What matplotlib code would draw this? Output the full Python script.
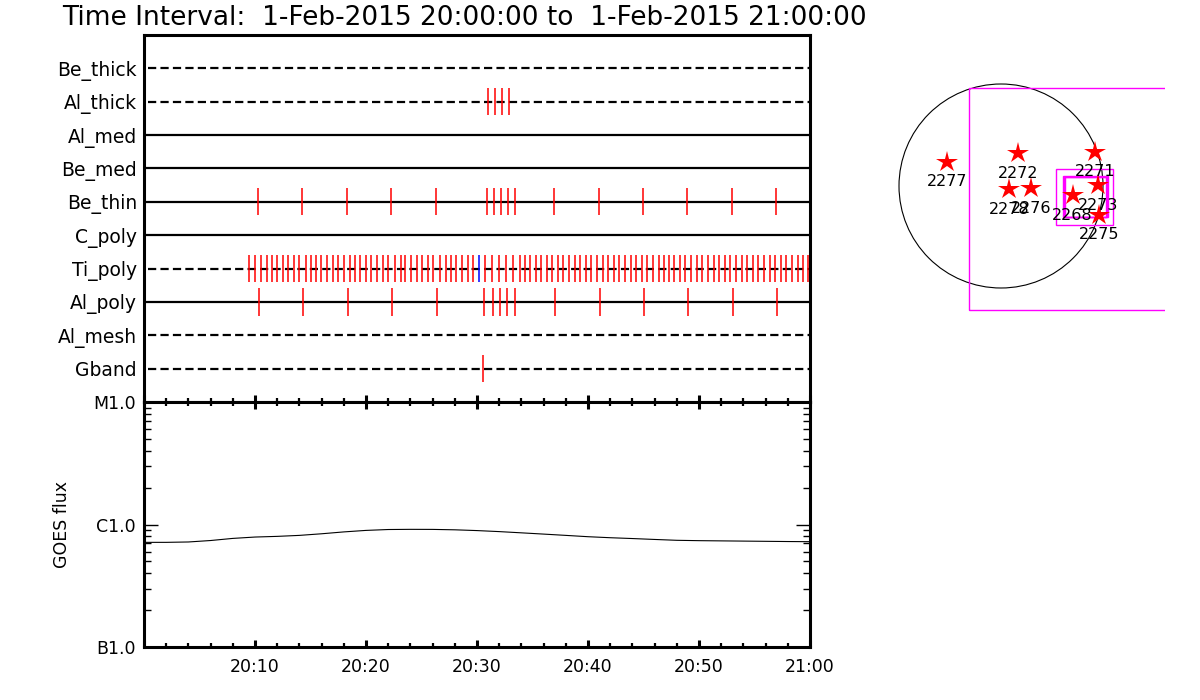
import matplotlib
matplotlib.use('Agg')
import matplotlib.pyplot as plt
from matplotlib.patches import Circle, Rectangle
from matplotlib.ticker import FixedLocator, MultipleLocator, LogLocator, NullFormatter, FixedFormatter

# ---------------- data ----------------
title = "Time Interval:  1-Feb-2015 20:00:00 to  1-Feb-2015 21:00:00"

filters = ['Be_thick', 'Al_thick', 'Al_med', 'Be_med', 'Be_thin',
           'C_poly', 'Ti_poly', 'Al_poly', 'Al_mesh', 'Gband']
filter_dashed = [True, True, False, False, False, False, True, False, True, True]

# exposure times, minutes after 20:00
be_thick_times = []
al_thick_times = [31.00, 31.64, 32.27, 32.90]
al_med_times = []
be_med_times = []
be_thin_times = [10.27, 14.24, 18.30, 22.26, 26.32, 30.91, 31.55, 32.18, 32.81, 33.44,
                 36.95, 41.01, 44.97, 48.94, 53.00, 56.96]
c_poly_times = []
ti_poly_times = [9.46, 10.00, 10.55, 11.09, 11.54, 11.99, 12.53, 12.98, 13.52, 13.97,
                 14.60, 15.05, 15.50, 15.95, 16.49, 17.03, 17.49, 18.03, 18.57, 19.02,
                 19.47, 20.01, 20.46, 21.00, 21.54, 21.99, 22.62, 23.16, 23.52, 24.06,
                 24.61, 25.06, 25.60, 26.05, 26.68, 27.22, 27.67, 28.12, 28.66, 29.20,
                 29.65, 30.73, 31.37, 32.00, 32.63, 33.26, 33.89, 34.34, 34.79, 35.33,
                 35.78, 36.32, 36.77, 37.31, 37.76, 38.30, 38.85, 39.30, 39.84, 40.29,
                 40.83, 41.37, 41.82, 42.36, 42.81, 43.35, 43.89, 44.35, 44.89, 45.34,
                 45.88, 46.42, 46.87, 47.32, 47.77, 48.31, 48.76, 49.30, 49.84, 50.29,
                 50.83, 51.37, 51.83, 52.37, 52.82, 53.36, 53.90, 54.35, 54.89, 55.34,
                 55.88, 56.42, 56.87, 57.41, 57.86, 58.40, 58.94, 59.40, 59.85]
ti_poly_blue_times = [30.19]
al_poly_times = [10.36, 14.33, 18.39, 22.35, 26.41, 30.64, 31.46, 32.09, 32.72, 33.44,
                 37.04, 41.10, 45.07, 49.03, 53.09, 57.05]
al_mesh_times = []
gband_times = [30.55]

filter_times = [be_thick_times, al_thick_times, al_med_times, be_med_times, be_thin_times,
                c_poly_times, ti_poly_times, al_poly_times, al_mesh_times, gband_times]

time_tick_labels = ['', '20:10', '20:20', '20:30', '20:40', '20:50', '21:00']

goes_minutes = [0, 2, 4, 6, 8, 10, 12, 14, 16, 18, 20, 22, 24, 26, 28, 30,
                32, 34, 36, 38, 40, 42, 44, 46, 48, 50, 52, 54, 56, 58, 60]
goes_flux = [7.15e-7, 7.15e-7, 7.20e-7, 7.40e-7, 7.70e-7, 7.90e-7, 8.00e-7, 8.15e-7,
             8.40e-7, 8.70e-7, 8.95e-7, 9.10e-7, 9.13e-7, 9.12e-7, 9.05e-7, 8.92e-7,
             8.75e-7, 8.55e-7, 8.35e-7, 8.15e-7, 7.95e-7, 7.80e-7, 7.68e-7, 7.55e-7,
             7.43e-7, 7.38e-7, 7.35e-7, 7.32e-7, 7.29e-7, 7.26e-7, 7.24e-7]
goes_class_values = [1e-7, 1e-6, 1e-5]
goes_class_labels = ['B1.0', 'C1.0', 'M1.0']

# active regions (arcsec)
ar_numbers = ['2277', '2272', '2271', '2278', '2276', '2268', '2273', '2275']
ar_x = [-519, 160, 896, 79, 284, 685, 927, 934]
ar_y = [232, 313, 328, -32, -22, -89, 7, -274]
solar_radius = 975
# FOV boxes: x0, y0, x1, y1 (arcsec)
fov_boxes = [(-303, -1185, 4000, 934),
             (529, -370, 1068, 160),
             (596, -300, 1020, 93),
             (604, -298, 1000, 90),
             (612, -296, 1012, 88)]

# ---------------- figure ----------------
W, H = 1200, 700
fig = plt.figure(figsize=(12, 7), dpi=100)

def frac(x0, y0, x1, y1):
    return [x0 / W, 1 - y1 / H, (x1 - x0) / W, (y1 - y0) / H]

ax1 = fig.add_axes(frac(144, 35, 810, 402))
ax2 = fig.add_axes(frac(144, 402, 810, 647), sharex=ax1)

spine_lw = 2.2
nrows = len(filters)
for i, (name, dashed, times) in enumerate(zip(filters, filter_dashed, filter_times)):
    yv = nrows - i
    if dashed:
        ax1.plot([0.4, 60], [yv, yv], color='black', lw=1.6, linestyle=(0, (3.7, 1.9)))
    else:
        ax1.plot([0, 60], [yv, yv], color='black', lw=1.6)
    if times:
        ax1.vlines(times, yv - 0.41, yv + 0.41, color='red', lw=1.1)
    if name == 'Ti_poly':
        ax1.vlines(ti_poly_blue_times, yv - 0.41, yv + 0.41, color='blue', lw=1.1)

ax1.set_xlim(0, 60)
ax1.set_ylim(0, nrows + 1)
ax1.set_yticks(range(nrows, 0, -1))
ax1.set_yticklabels(filters, fontsize=13.5)
ax1.tick_params(axis='y', length=0, pad=5)
ax1.xaxis.set_major_locator(MultipleLocator(10))
ax1.xaxis.set_minor_locator(MultipleLocator(2))
ax1.tick_params(axis='x', which='major', direction='in', length=5, width=2.2,
                bottom=True, top=False, labelbottom=False)
ax1.tick_params(axis='x', which='minor', direction='in', length=3, width=1.6,
                bottom=True, top=False)
for s in ax1.spines.values():
    s.set_linewidth(spine_lw)

# GOES panel
ax2.plot(goes_minutes, goes_flux, color='black', lw=0.8)
ax2.set_yscale('log')
ax2.set_ylim(1e-7, 1e-5)
ax2.set_xlim(0, 60)
ax2.yaxis.set_major_locator(FixedLocator(goes_class_values))
ax2.yaxis.set_major_formatter(FixedFormatter(goes_class_labels))
ax2.yaxis.set_minor_locator(LogLocator(base=10, subs=range(2, 10)))
ax2.yaxis.set_minor_formatter(NullFormatter())
ax2.tick_params(axis='y', which='major', direction='in', length=10, width=1.0,
                left=True, right=True, labelsize=12.5, pad=6)
ax2.tick_params(axis='y', which='minor', direction='in', length=5, width=1.0,
                left=True, right=True)
ax2.set_xticks(range(0, 61, 10))
ax2.set_xticklabels(time_tick_labels)
ax2.xaxis.set_minor_locator(MultipleLocator(2))
ax2.tick_params(axis='x', which='major', direction='in', length=5, width=2.2,
                top=True, bottom=True, labelsize=12.5, pad=8)
ax2.tick_params(axis='x', which='minor', direction='in', length=3, width=1.6,
                top=True, bottom=True)
ax2.set_ylabel('GOES flux', fontsize=12.5, labelpad=16)
for s in ax2.spines.values():
    s.set_linewidth(spine_lw)

fig.text(62 / W, 1 - 25 / H, title, fontsize=19, ha='left', va='baseline')

# Solar disk panel
px_scale = solar_radius / 102.0
cx, cy = 1001, 186
ax3 = fig.add_axes(frac(880, 60, 1165, 330))
ax3.set_xlim((880 - cx) * px_scale, (1165 - cx) * px_scale)
ax3.set_ylim((cy - 330) * px_scale, (cy - 60) * px_scale)
ax3.axis('off')
ax3.add_patch(Circle((0, 0), solar_radius, fill=False, edgecolor='black', lw=0.8))
for (x0, y0, x1, y1) in fov_boxes:
    ax3.add_patch(Rectangle((x0, y0), x1 - x0, y1 - y0, fill=False,
                            edgecolor='magenta', lw=1.0))
ax3.plot(ar_x, ar_y, linestyle='none', marker='*', markersize=16,
         color='red', markeredgewidth=0)
for num, x, y in zip(ar_numbers, ar_x, ar_y):
    ax3.annotate(num, (x, y), xytext=(0, -20), textcoords='offset pixels',
                 ha='center', va='center', fontsize=11.5)

fig.savefig('out.png', dpi=100)
